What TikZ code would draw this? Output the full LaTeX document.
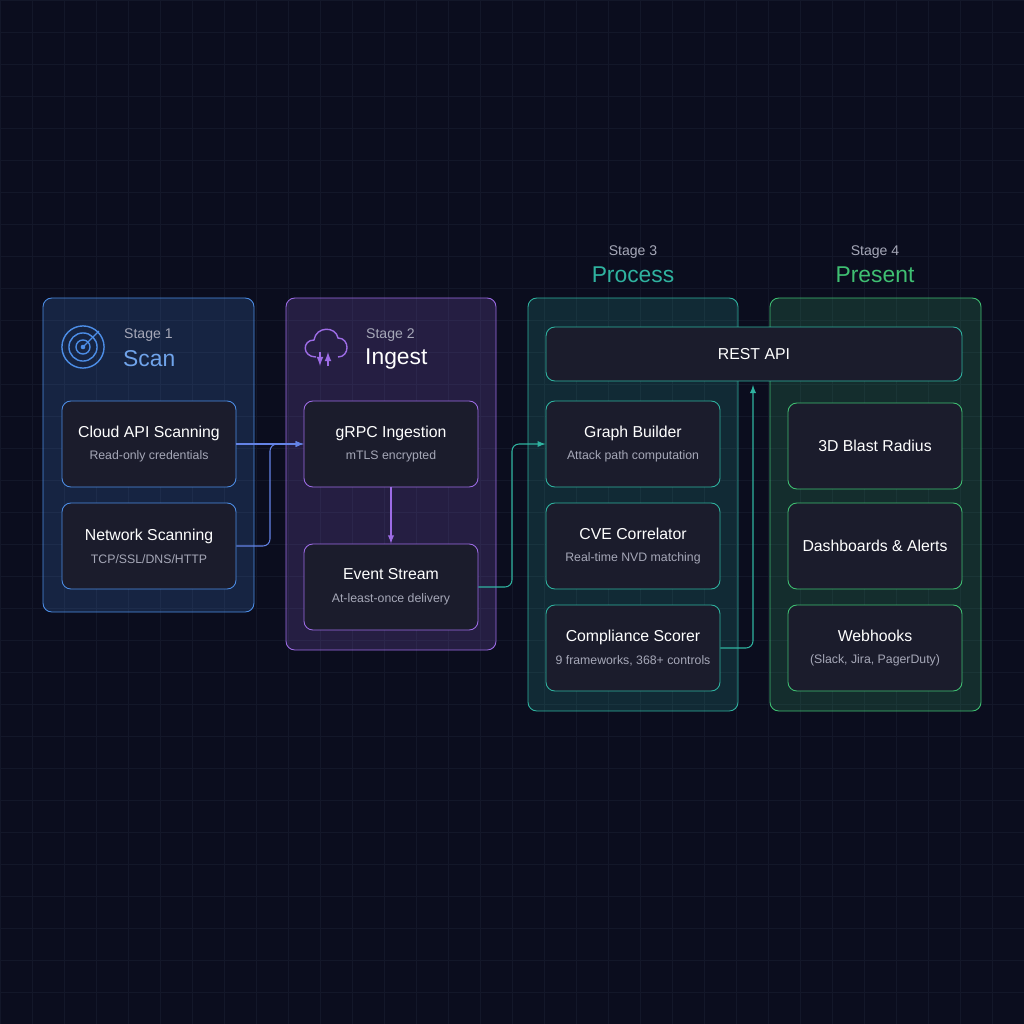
\documentclass[tikz,border=0pt]{standalone}
\usepackage{fontspec}
\setmainfont{Liberation Sans}
\usetikzlibrary{positioning}
\definecolor{bgc}{HTML}{0B0D1E}
\definecolor{gridc}{HTML}{131729}
\definecolor{scanc}{HTML}{4C8DE6}
\definecolor{ingc}{HTML}{9D6CE6}
\definecolor{procc}{HTML}{2FB3A0}
\definecolor{presc}{HTML}{3FBF72}
\definecolor{cardc}{HTML}{1B1C2C}
\definecolor{subc}{HTML}{A6A8B8}

\tikzset{
  panel/.style={draw=#1, line width=0.5pt, rounded corners=5pt, fill=#1, fill opacity=0.18, draw opacity=1},
  card/.style={draw=#1, line width=0.5pt, rounded corners=5pt, fill=cardc, text=white,
    minimum width=3.48cm, minimum height=1.72cm, align=center, font=\fontsize{9}{12}\selectfont},
  flow/.style={draw=#1, line width=0.6pt, ->, >=latex, rounded corners=4pt},
  stagelbl/.style={text=subc, font=\fontsize{8}{10}\selectfont},
  stagettl/.style={text=#1, font=\fontsize{13}{15}\selectfont},
}

\begin{document}
\begin{tikzpicture}[x=0.02cm, y=-0.02cm]
  % Background and grid
  \fill[bgc] (0,0) rectangle (1024,1024);
  \useasboundingbox (0,0) rectangle (1024,1024);
  \foreach \g in {0,32,...,1024} {
    \draw[gridc, line width=0.3pt] (\g,0) -- (\g,1024);
    \draw[gridc, line width=0.3pt] (0,\g) -- (1024,\g);
  }

  % Stage panels
  \draw[panel=scanc] (43,298) rectangle (254,612);
  \draw[panel=ingc]  (286,298) rectangle (496,650);
  \draw[panel=procc] (528,298) rectangle (738,711);
  \draw[panel=presc] (770,298) rectangle (981,711);

  % Stage headers
  \node[stagelbl, anchor=west] at (118,335) {Stage 1};
  \node[stagettl=scanc!80!white, anchor=west] at (117,359) {Scan};
  \node[stagelbl, anchor=west] at (360,335) {Stage 2};
  \node[stagettl=white, anchor=west] at (359,359) {Ingest};
  \node[stagelbl] at (633,252) {Stage 3};
  \node[stagettl=procc] at (633,275) {Process};
  \node[stagelbl] at (875,252) {Stage 4};
  \node[stagettl=presc] at (875,275) {Present};

  % Radar icon
  \begin{scope}[draw=scanc, line width=0.8pt]
    \draw (83,347) circle (12pt);
    \draw (83,347) circle (8pt);
    \draw (83,347) circle (4pt);
    \fill[scanc] (83,347) circle (1.3pt);
    \draw (83,347) -- (99,331);
  \end{scope}

  % Cloud icon
  \begin{scope}[draw=ingc, line width=0.8pt, ->, >=latex]
    \draw[-] (316,357) .. controls (302,357) and (302,340) .. (314,340)
      .. controls (316,326) and (336,326) .. (338,338)
      .. controls (350,338) and (350,357) .. (338,357);
    \draw (320,352) -- (320,366);
    \draw (328,366) -- (328,352);
  \end{scope}

  % Stage 1 cards
  \node[card=scanc] (cloud) at (149,444) {Cloud API Scanning\\[1pt]{\fontsize{7}{9}\selectfont\color{subc}Read-only credentials}};
  \node[card=scanc] (net) at (149,546) {Network Scanning\\[1pt]{\fontsize{7}{9}\selectfont\color{subc}TCP/SSL/DNS/HTTP}};

  % Stage 2 cards
  \node[card=ingc] (grpc) at (391,444) {gRPC Ingestion\\[1pt]{\fontsize{7}{9}\selectfont\color{subc}mTLS encrypted}};
  \node[card=ingc] (event) at (391,587) {Event Stream\\[1pt]{\fontsize{7}{9}\selectfont\color{subc}At-least-once delivery}};

  % Stage 3 cards
  \node[card=procc, minimum width=8.32cm, minimum height=1.08cm] (rest) at (754,354) {REST API};
  \node[card=procc] (graph) at (633,444) {Graph Builder\\[1pt]{\fontsize{7}{9}\selectfont\color{subc}Attack path computation}};
  \node[card=procc] (cve) at (633,546) {CVE Correlator\\[1pt]{\fontsize{7}{9}\selectfont\color{subc}Real-time NVD matching}};
  \node[card=procc] (comp) at (633,648) {Compliance Scorer\\[1pt]{\fontsize{7}{9}\selectfont\color{subc}9 frameworks, 368+ controls}};

  % Stage 4 cards
  \node[card=presc] (blast) at (875,446) {3D Blast Radius};
  \node[card=presc] (dash) at (875,546) {Dashboards \& Alerts};
  \node[card=presc] (hook) at (875,648) {Webhooks\\[1pt]{\fontsize{7}{9}\selectfont\color{subc}(Slack, Jira, PagerDuty)}};

  % Flows
  \draw[flow=scanc!70!ingc] (cloud.east) -- (grpc.west);
  \draw[flow=scanc!70!ingc] (net.east) -| (270,444) -- (grpc.west);
  \draw[flow=ingc] (grpc.south) -- (event.north);
  \draw[flow=procc] (event.east) -| (512,444) -- (graph.west);
  \draw[flow=procc] (comp.east) -| (753,385);
\end{tikzpicture}
\end{document}
